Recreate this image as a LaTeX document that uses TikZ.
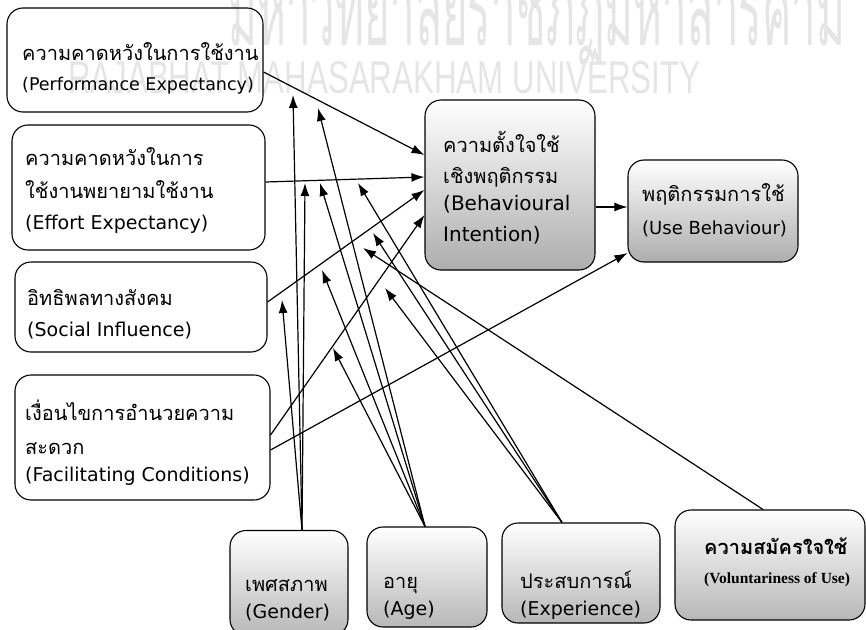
\documentclass[tikz,border=0pt]{standalone}
\usepackage{fontspec}
\setmainfont{DejaVu Sans}
\newfontfamily\thai[Script=Thai]{Loma}
\newfontfamily\wmen{Liberation Sans}
\newfontfamily\serifb{Liberation Serif}
\usetikzlibrary{arrows.meta}
\newcommand{\thtxt}[1]{{\thai\fontsize{20}{31}\selectfont #1}}
\begin{document}
\begin{tikzpicture}[x=1pt,y=-1pt,
  box/.style={draw=black, line width=1.1pt, rounded corners=16pt, inner sep=0pt},
  shbox/.style={box, top color=white, middle color=white, bottom color=black!28},
  bibox/.style={box, top color=white, bottom color=black!32},
  txt/.style={anchor=west, align=left, inner sep=0pt, font=\fontsize{19}{31}\selectfont},
  wm/.style={text=black!10, inner sep=0pt},
  arr/.style={line width=1.2pt, -{Latex[length=13pt,width=9pt]}},
]
\useasboundingbox (0,0) rectangle (866,629);
% watermark
\node[wm, anchor=base west, xscale=0.44, font=\thai\fontsize{100}{100}\selectfont] (wmth) at (228,45) {มหาวิทยาลัยราชภัฏมหาสารคาม};
\node[wm, anchor=base west, xscale=0.68, font=\wmen\fontsize{46}{46}\selectfont] (wmen) at (68,93) {RAJABHAT MAHASARAKHAM UNIVERSITY};
% boxes
\node[box, minimum width=256pt, minimum height=104pt] (pe) at (135,60) {};
\node[box, minimum width=253pt, minimum height=125pt] (ee) at (138.5,187.5) {};
\node[box, minimum width=252pt, minimum height=90pt] (si) at (141,307) {};
\node[box, minimum width=255pt, minimum height=125pt] (fc) at (142.5,437.5) {};
\node[bibox, minimum width=170pt, minimum height=170pt] (bi) at (510,185) {};
\node[bibox, minimum width=170pt, minimum height=102pt] (ub) at (713,211) {};
\node[shbox, minimum width=118pt, minimum height=105pt] (gen) at (289,583) {};
\node[shbox, minimum width=120pt, minimum height=100pt] (age) at (427,577) {};
\node[shbox, minimum width=158pt, minimum height=100pt] (exp) at (581,573) {};
\node[shbox, minimum width=190pt, minimum height=110pt] (vol) at (770,565) {};
% texts
\node[txt, font=\fontsize{17.5}{30}\selectfont] (pet) at (22,68) {\thtxt{ความคาดหวังในการใช้งาน}\\(Performance Expectancy)};
\node[txt] (eet) at (25,190) {\thtxt{ความคาดหวังในการ}\\[2pt]\thtxt{ใช้งานพยายามใช้งาน}\\(Effort Expectancy)};
\node[txt] (sit) at (27,314) {\thtxt{อิทธิพลทางสังคม}\\(Social Influence)};
\node[txt] (fct) at (25,443) {\thtxt{เงื่อนไขการอำนวยความ}\\[3pt]\thtxt{สะดวก}\\[-4pt](Facilitating Conditions)};
\node[txt, font=\fontsize{20}{31}\selectfont] (bit) at (443,188) {\thtxt{ความตั้งใจใช้}\\\thtxt{เชิงพฤติกรรม}\\[-4pt](Behavioural\\Intention)};
\node[txt, font=\fontsize{18}{33}\selectfont] (ubt) at (642,210) {\thtxt{พฤติกรรมการใช้}\\(Use Behaviour)};
\node[txt] (gent) at (245,600) {\thtxt{เพศสภาพ}\\[-4pt](Gender)};
\node[txt] (aget) at (383,598) {\thtxt{อายุ}\\[-4pt](Age)};
\node[txt] (expt) at (520,595) {\thtxt{ประสบการณ์}\\[-4pt](Experience)};
\node[txt, font=\fontsize{19}{29}\selectfont] (volt) at (704,562) {{\thai\bfseries\fontsize{20}{29}\selectfont ความสมัครใจใช้}\\{\serifb\bfseries\fontsize{15.5}{29}\selectfont (Voluntariness of Use)}};
% main arrows
\draw[arr] ([yshift=-12pt]pe.east) -- ([yshift=30pt]bi.west);
\draw[arr] ([yshift=5.5pt]ee.east) -- ([yshift=8pt]bi.west);
\draw[arr] ([yshift=5pt]si.east) -- ([yshift=-5pt]bi.west);
\draw[arr] ([yshift=2.5pt]fc.east) -- ([yshift=-30pt]bi.west);
\draw[arr] ([yshift=-12.5pt]fc.east) -- ([yshift=-42pt]ub.west);
\coordinate (biub) at ([yshift=-22pt]bi.east);
\draw[arr] (biub) -- (biub -| ub.west);
% moderator targets
\coordinate (tg1) at (293,95);
\coordinate (ta1) at (318,108);
\coordinate (tg2) at (305,183);
\coordinate (ta2) at (320,183);
\coordinate (te2) at (358,183);
\coordinate (te3) at (373,233);
\coordinate (tv3) at (363,248);
\coordinate (tg3) at (282,300);
\coordinate (ta3) at (322,270);
\coordinate (ta4) at (333,348);
\coordinate (te4) at (385,288);
\coordinate (sg) at ([xshift=13pt]gen.north);
\coordinate (sa) at ([xshift=-2pt]age.north);
\coordinate (se) at ([xshift=-19pt]exp.north);
\coordinate (sv) at ([xshift=-7pt]vol.north);
% moderator arrows
\draw[arr] (sg) -- (tg1);
\draw[arr] (sg) -- (tg2);
\draw[arr] (sg) -- (tg3);
\draw[arr] (sa) -- (ta1);
\draw[arr] (sa) -- (ta2);
\draw[arr] (sa) -- (ta3);
\draw[arr] (sa) -- (ta4);
\draw[arr] (se) -- (te2);
\draw[arr] (se) -- (te3);
\draw[arr] (se) -- (te4);
\draw[arr] (sv) -- (tv3);
\end{tikzpicture}
\end{document}
